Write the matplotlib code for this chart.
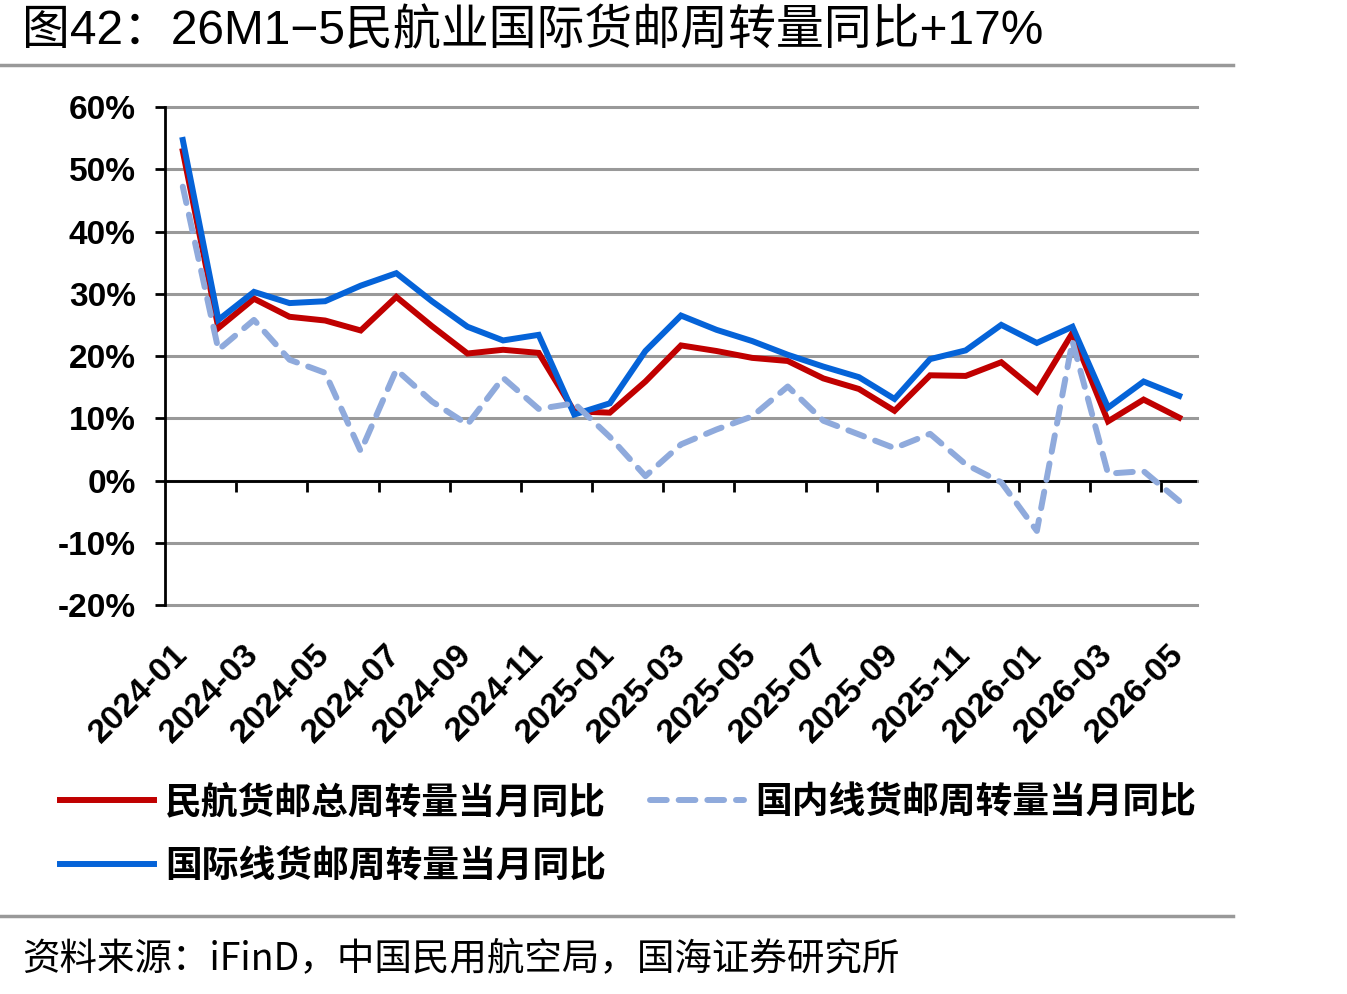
import matplotlib
matplotlib.use('Agg')
from matplotlib import pyplot as plt
from matplotlib.lines import Line2D
from matplotlib.ticker import FuncFormatter
import numpy as np
#
# data (percent, month on month of previous year)
# ----------------------------------------------------------------------------
#
months = ['2024-01', '2024-02', '2024-03', '2024-04', '2024-05', '2024-06',
          '2024-07', '2024-08', '2024-09', '2024-10', '2024-11', '2024-12',
          '2025-01', '2025-02', '2025-03', '2025-04', '2025-05', '2025-06',
          '2025-07', '2025-08', '2025-09', '2025-10', '2025-11', '2025-12',
          '2026-01', '2026-02', '2026-03', '2026-04', '2026-05']
total = [52.9, 24.5, 29.2, 26.3, 25.7, 24.1, 29.5, 24.8, 20.4, 21.0, 20.5, 11.1,
         10.9, 15.9, 21.7, 20.8, 19.7, 19.2, 16.4, 14.7, 11.2, 16.9, 16.8, 19.0,
         14.3, 23.7, 9.5, 13.0, 10.1]
intl = [54.7, 25.8, 30.3, 28.5, 28.8, 31.3, 33.3, 28.8, 24.7, 22.5, 23.4, 10.6,
        12.4, 20.8, 26.5, 24.2, 22.4, 20.2, 18.3, 16.6, 13.1, 19.5, 20.9, 25.0,
        22.1, 24.7, 11.7, 15.9, 13.6]
domestic = [47.2, 21.0, 25.8, 19.4, 17.3, 4.7, 17.8, 12.7, 9.0, 16.5, 11.5, 12.4,
            7.0, 0.7, 5.8, 8.2, 10.3, 15.1, 9.6, 7.4, 5.2, 7.5, 2.6, -0.3,
            -8.1, 22.4, 1.1, 1.5, -3.3]
series_names = ['民航货邮总周转量当月同比', '国际线货邮周转量当月同比', '国内线货邮周转量当月同比']
title = '图42：26M1−5民航业国际货邮周转量同比+17%'
source = '资料来源：iFinD，中国民用航空局，国海证券研究所'
#
# fonts
# -----
#
plt.rcParams['font.family'] = ['Liberation Sans', 'Noto Sans CJK SC', 'DejaVu Sans']
cjk = ['Noto Sans CJK SC', 'Liberation Sans', 'DejaVu Sans']
#
# figure and axes
# ---------------
#
W, H = 1347, 994
fig = plt.figure(figsize=(W / 100, H / 100), dpi=100)
ax = fig.add_axes([165 / W, 1 - 605 / H, (1197 - 165) / W, (605 - 107) / H])

x = np.arange(len(months))
ax.plot(x, total, color='#C00000', lw=4.3, solid_joinstyle='miter', zorder=3, label=series_names[0])
ax.plot(x, intl, color='#0563D8', lw=4.3, solid_joinstyle='miter', zorder=4, label=series_names[1])
ax.plot(x, domestic, color='#8FAADC', lw=4.3, linestyle=(0, (2.8, 2.0)),
        dash_capstyle='round', zorder=5, label=series_names[2])

ax.set_xlim(-0.5, len(months) - 0.5)
ax.set_ylim(-20, 60)
ax.set_yticks(np.arange(-20, 61, 10))
ax.yaxis.set_major_formatter(FuncFormatter(lambda v, p: '%d%%' % v))
ax.grid(axis='y', color='#999999', lw=2.2, zorder=0)
for g in ax.get_ygridlines():
    g.set_clip_on(False)
ax.axhline(0, color='black', lw=2, zorder=2)

for s in ['top', 'right', 'bottom']:
    ax.spines[s].set_visible(False)
ax.spines['left'].set_linewidth(2)

ax.tick_params(axis='y', direction='out', length=7, width=2, pad=14)
for lab in ax.get_yticklabels():
    lab.set_fontsize(24)
    lab.set_fontweight('bold')

ax.set_xticks(x[::2])
ax.set_xticklabels(months[::2], rotation=45, ha='right', va='center',
                   rotation_mode='anchor', fontsize=24.5, fontweight='bold')
ax.tick_params(axis='x', length=0, pad=32)
#
# tick marks between categories on the zero line
# ----------------------------------------------
#
sec = ax.secondary_xaxis(0.25)
sec.set_xticks(x[1:-1:2] + 0.5)
sec.set_xticklabels([])
sec.tick_params(length=8, width=2, direction='out')
sec.spines['bottom'].set_visible(False)
#
# legend
# ------
#
h = ax.get_legend_handles_labels()[0]
fig.legend([h[0], h[1], h[2]], [series_names[0], series_names[1], series_names[2]],
           ncol=2, loc='upper left', bbox_to_anchor=(60 / W, 1 - 784 / H),
           frameon=False, borderpad=0, borderaxespad=0, handlelength=2.55,
           handletextpad=0.3, columnspacing=1.2, labelspacing=0.72,
           prop={'family': cjk, 'size': 26.5, 'weight': 'bold'})
#
# title, source and separators
# ----------------------------
#
fig.text(22 / W, 1 - 31 / H, title, fontsize=34.5, va='center', ha='left',
         family=['Liberation Sans', 'Noto Sans CJK SC'])
fig.text(22 / W, 1 - 960 / H, source, fontsize=27, va='center', ha='left', family=cjk)
for yy in [65, 916]:
    fig.add_artist(Line2D([0, 1233 / W], [1 - yy / H] * 2, color='#999999', lw=2.5))

fig.savefig('out.png', dpi=100)
